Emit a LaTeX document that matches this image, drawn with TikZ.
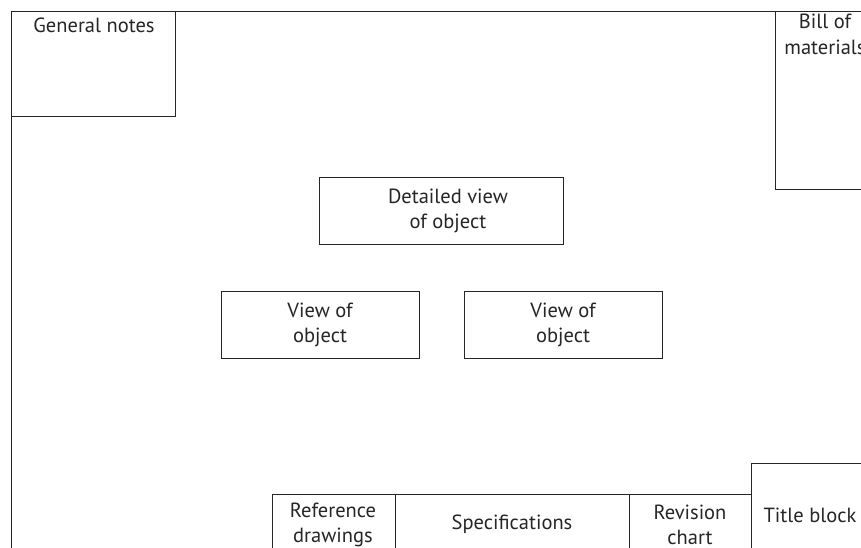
\documentclass[tikz,border=0pt]{standalone}
\usepackage{fontspec}
\setmainfont{PT Sans}
\begin{document}
\begin{tikzpicture}[x=1pt,y=-1pt,
  box/.style={draw=black!85,line width=0.9pt},
  lbl/.style={font=\fontsize{20.5}{25.5}\selectfont,align=center,inner sep=0pt,text=black!85}]
\useasboundingbox (0,0) rectangle (861,548);
\clip (0,0) rectangle (861,548);
\fill[white] (0,0) rectangle (861,548);
% outer frame
\draw[box] (11,600) -- (11,11) -- (900,11);
% boxes
\draw[box] (11,11) rectangle (175,116);
\draw[box] (775,11) rectangle (900,189);
\draw[box] (319,177) rectangle (563,244);
\draw[box] (221,291) rectangle (419,358);
\draw[box] (464,291) rectangle (662,358);
\draw[box] (272,600) -- (272,494) -- (751,494);
\draw[box] (395,494) -- (395,600);
\draw[box] (629,494) -- (629,600);
\draw[box] (751,600) -- (751,463) -- (900,463);
% labels
\node[lbl] (gn) at (94,25) {General notes};
\node[lbl,anchor=north] (bom) at (825,14) {Bill of\\materials};
\node[lbl] (det) at (448,211) {Detailed view\\of object};
\node[lbl] (v1) at (320,325) {View of\\object};
\node[lbl] (v2) at (563,325) {View of\\object};
\node[lbl] (ref) at (333,525) {Reference\\drawings};
\node[lbl] (spec) at (512,524) {Specifications};
\node[lbl] (rev) at (690,525) {Revision\\chart};
\node[lbl] (tb) at (810,515) {Title block};
\end{tikzpicture}
\end{document}
